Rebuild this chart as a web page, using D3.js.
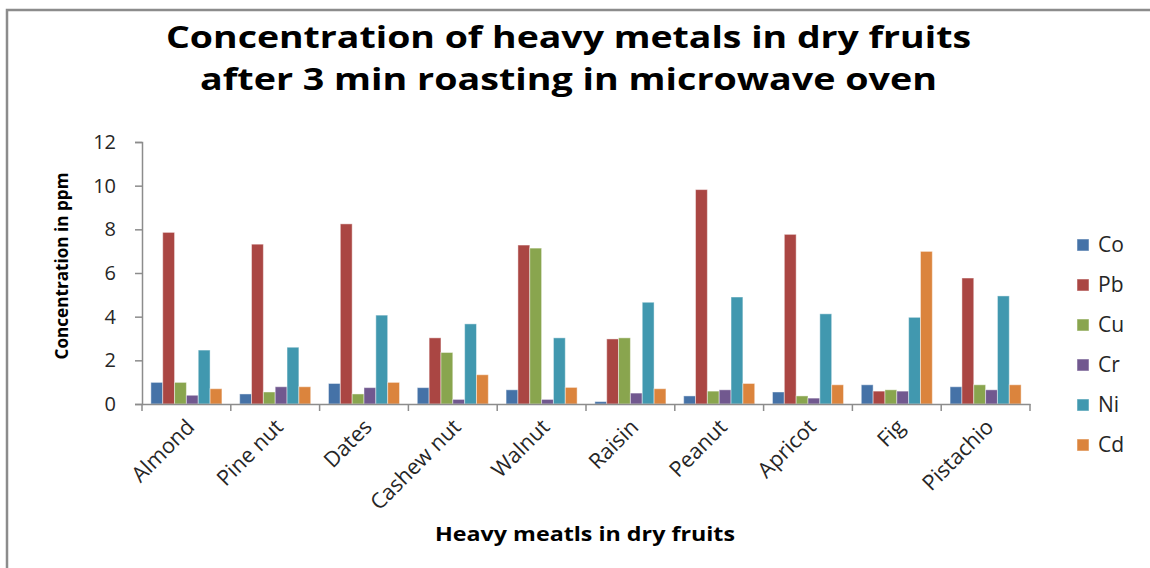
<!DOCTYPE html>
<html>
<head>
<meta charset="utf-8">
<script src="https://cdn.jsdelivr.net/npm/d3@7"></script>
<style>
  html, body { margin: 0; padding: 0; background: #fff; }
  svg { display: block; }
</style>
</head>
<body>
<svg id="chart" width="1150" height="568"></svg>
<script>
const categories = ["Almond", "Pine nut", "Dates", "Cashew nut", "Walnut", "Raisin", "Peanut", "Apricot", "Fig", "Pistachio"];
const seriesNames = ["Co", "Pb", "Cu", "Cr", "Ni", "Cd"];
const Co = [0.99, 0.46, 0.94, 0.75, 0.65, 0.11, 0.37, 0.55, 0.88, 0.79];
const Pb = [7.86, 7.32, 8.25, 3.03, 7.28, 2.98, 9.82, 7.77, 0.59, 5.77];
const Cu = [0.99, 0.55, 0.46, 2.36, 7.14, 3.03, 0.59, 0.37, 0.65, 0.88];
const Cr = [0.40, 0.79, 0.75, 0.21, 0.21, 0.50, 0.65, 0.27, 0.59, 0.65];
const Ni = [2.47, 2.60, 4.07, 3.67, 3.03, 4.66, 4.90, 4.13, 3.97, 4.95];
const Cd = [0.70, 0.79, 0.99, 1.34, 0.76, 0.70, 0.94, 0.88, 6.99, 0.88];
const yTicks = [0, 2, 4, 6, 8, 10, 12];
const colors = ["#4572A7", "#AA4643", "#89A54E", "#71588F", "#4198AF", "#DB843D"];
const titleLines = ["Concentration of heavy metals in dry fruits", "after 3 min roasting in microwave oven"];
const xTitle = "Heavy meatls in dry fruits";
const yTitle = "Concentration in ppm";

const seriesValues = [Co, Pb, Cu, Cr, Ni, Cd];
const svg = d3.select("#chart");
const FONT = "'Open Sans', 'DejaVu Sans', sans-serif";
const TXT = "#262626";

// frame
svg.append("rect").attr("x", 7).attr("y", 10).attr("width", 1200).attr("height", 600)
  .attr("fill", "none").attr("stroke", "#8c8c8c").attr("stroke-width", 2.5);

const plot = { left: 142, right: 1030, top: 142, bottom: 404 };
const x0 = d3.scaleBand().domain(categories).range([plot.left, plot.right]).paddingInner(0).paddingOuter(0);
const x1 = d3.scaleBand().domain(seriesNames).range([0, x0.bandwidth()]).paddingInner(0).paddingOuter(0.75);
const y = d3.scaleLinear().domain([0, 12]).range([plot.bottom, plot.top]);
const color = d3.scaleOrdinal().domain(seriesNames).range(colors);

// bars
const groups = svg.append("g").selectAll("g").data(categories).join("g")
  .attr("transform", d => `translate(${x0(d)},0)`);
groups.selectAll("rect")
  .data((c, i) => seriesNames.map((s, k) => ({ s, v: seriesValues[k][i] })))
  .join("rect")
  .attr("x", d => x1(d.s))
  .attr("y", d => y(d.v))
  .attr("width", x1.bandwidth())
  .attr("height", d => y(0) - y(d.v))
  .attr("fill", d => color(d.s))
  .attr("stroke", "rgba(255,255,255,0.45)")
  .attr("stroke-width", 1);

// y axis
const yAxis = svg.append("g").attr("transform", `translate(${plot.left},0)`)
  .call(d3.axisLeft(y).tickValues(yTicks).tickSize(7).tickPadding(19).tickFormat(d3.format("d")));
yAxis.select(".domain").attr("stroke", "#8c8c8c").attr("stroke-width", 1.5);
yAxis.selectAll(".tick line").attr("stroke", "#8c8c8c").attr("stroke-width", 1.5);
yAxis.selectAll(".tick text").attr("font-family", FONT).attr("font-size", 20).attr("fill", TXT);

// x axis
const xAxis = svg.append("g").attr("transform", `translate(0,${plot.bottom})`)
  .call(d3.axisBottom(x0).tickSize(0).tickFormat(""));
xAxis.select(".domain").attr("stroke", "#8c8c8c").attr("stroke-width", 1.5);
xAxis.selectAll(".tick").remove();
const boundaries = categories.map(c => x0(c)).concat([plot.right]);
xAxis.selectAll("line.bnd").data(boundaries).join("line").attr("class", "bnd")
  .attr("x1", d => d).attr("x2", d => d).attr("y1", 0).attr("y2", 7)
  .attr("stroke", "#8c8c8c").attr("stroke-width", 1.5);
xAxis.selectAll("text.cat").data(categories).join("text").attr("class", "cat")
  .attr("transform", d => `translate(${x0(d) + x0.bandwidth() / 2 + 4},${19}) rotate(-45)`)
  .attr("text-anchor", "end")
  .attr("dy", "0.35em")
  .attr("font-family", FONT).attr("font-size", 21.5).attr("fill", TXT)
  .text(d => d);

// title
const tl = [{ t: titleLines[0], y: 48, len: 805 }, { t: titleLines[1], y: 90, len: 737 }];
svg.selectAll("text.title").data(tl).join("text").attr("class", "title")
  .attr("x", 568.5).attr("y", d => d.y).attr("text-anchor", "middle")
  .attr("font-family", FONT).attr("font-weight", "bold").attr("font-size", 31).attr("fill", "#000")
  .attr("textLength", d => d.len).attr("lengthAdjust", "spacingAndGlyphs")
  .text(d => d.t);

// x title
svg.append("text").attr("x", 585).attr("y", 541).attr("text-anchor", "middle")
  .attr("font-family", FONT).attr("font-weight", "bold").attr("font-size", 19).attr("fill", "#000")
  .attr("textLength", 300).attr("lengthAdjust", "spacingAndGlyphs")
  .text(xTitle);

// y title
svg.append("text").attr("transform", "translate(68,266) rotate(-90)").attr("text-anchor", "middle")
  .attr("font-family", FONT).attr("font-weight", "bold").attr("font-size", 18).attr("fill", "#000")
  .attr("textLength", 187).attr("lengthAdjust", "spacingAndGlyphs")
  .text(yTitle);

// legend
const legend = svg.append("g").selectAll("g").data(seriesNames).join("g")
  .attr("transform", (d, i) => `translate(1077,${245 + i * 40})`);
legend.append("rect").attr("x", 0).attr("y", -6).attr("width", 12).attr("height", 12)
  .attr("fill", d => color(d)).attr("stroke", "rgba(255,255,255,0.5)").attr("stroke-width", 1);
legend.append("text").attr("x", 21).attr("y", 0).attr("dy", "0.35em")
  .attr("font-family", FONT).attr("font-size", 21).attr("fill", TXT)
  .text(d => d);
</script>
</body>
</html>
